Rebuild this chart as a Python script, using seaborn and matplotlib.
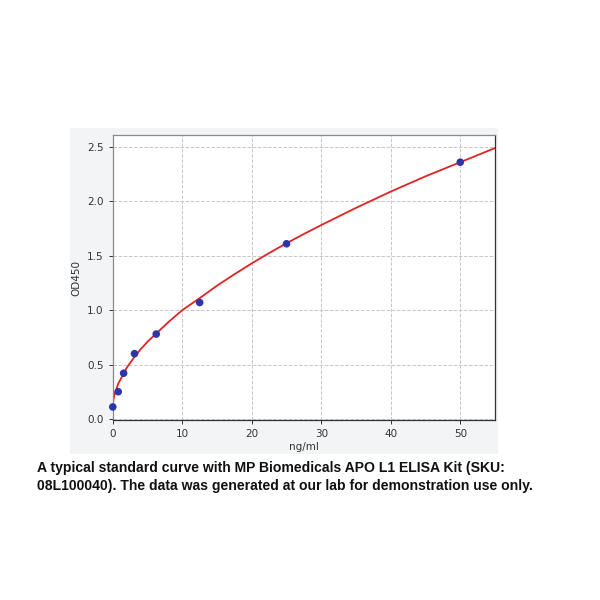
import matplotlib
matplotlib.use("Agg")
import matplotlib.pyplot as plt
import matplotlib.patches as mpatches
import seaborn as sns
import pandas as pd

# -----------------------------------
# Data
# -----------------------------------
conc = [0, 0.78, 1.56, 3.125, 6.25, 12.5, 25, 50]
od450 = [0.11, 0.25, 0.42, 0.60, 0.78, 1.07, 1.61, 2.36]

# fitted standard curve
fit_x = [0, 0.05, 0.1, 0.2, 0.35, 0.5, 0.75, 1, 1.5, 2, 3, 4, 5, 6, 8,
         10, 12.5, 15, 17.5, 20, 22.5, 25, 27.5, 30, 35, 40, 45, 50, 55]
fit_y = [0.12, 0.16, 0.18, 0.21, 0.25, 0.27, 0.32, 0.35, 0.41, 0.47, 0.56,
         0.64, 0.71, 0.77, 0.89, 1.00, 1.11, 1.225, 1.33, 1.43, 1.525,
         1.615, 1.70, 1.782, 1.94, 2.09, 2.23, 2.36, 2.49]

caption = ("A typical standard curve with MP Biomedicals APO L1 ELISA Kit (SKU:\n"
           "08L100040). The data was generated at our lab for demonstration use only.")

points = pd.DataFrame({"conc": conc, "od": od450})
curve = pd.DataFrame({"conc": fit_x, "od": fit_y})

# -----------------------------------
# Plot
# -----------------------------------
sns.set_style("white")
plt.rcParams["font.family"] = ["DejaVu Sans"]

fig = plt.figure(figsize=(6, 6), dpi=100)

# light grey panel behind the chart
fig.patches.append(mpatches.Rectangle((0.117, 0.243), 0.713, 0.543,
                                      transform=fig.transFigure,
                                      facecolor="#f3f4f6", edgecolor="none",
                                      zorder=-5))

ax = fig.add_axes([0.188, 0.30, 0.637, 0.475])
ax.set_zorder(2)
ax.set_facecolor("white")

sns.lineplot(data=curve, x="conc", y="od", ax=ax, color="#e02424",
             linewidth=1.3, zorder=2)
sns.scatterplot(data=points, x="conc", y="od", ax=ax, color="#2e35a8",
                s=30, edgecolor="none", zorder=3, clip_on=False)

ax.set_xlim(0, 55)
ax.set_ylim(-0.01, 2.61)
ax.set_xticks([0, 10, 20, 30, 40, 50])
ax.set_yticks([0.0, 0.5, 1.0, 1.5, 2.0, 2.5])
ax.set_yticklabels(["0.0", "0.5", "1.0", "1.5", "2.0", "2.5"])
ax.grid(True, linestyle="--", color="#c8c8c8", linewidth=0.7)
ax.tick_params(labelsize=7.5, colors="#333333", length=3, width=0.7,
               left=True, bottom=True)
for side, s in ax.spines.items():
    s.set_color("#333333" if side in ("bottom", "right") else "#888888")
    s.set_linewidth(0.9)
ax.set_xlabel("ng/ml", fontsize=7.5, color="#333333", labelpad=2)
ax.set_ylabel("OD450", fontsize=7.5, color="#333333", labelpad=4)

fig.text(0.062, 0.231, caption, ha="left", va="top", fontsize=10.1,
         fontweight="bold", family=["Liberation Sans", "DejaVu Sans"],
         linespacing=1.36, color="#111111")

fig.savefig("out.png", dpi=100)
plt.close(fig)
